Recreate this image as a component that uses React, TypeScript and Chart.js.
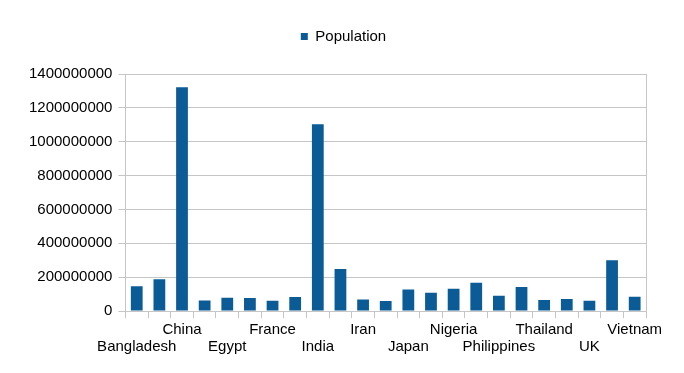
import React, { useEffect, useRef } from "react";
import { Chart, registerables } from "chart.js";

Chart.register(...registerables);

const countries = [
  "Bangladesh", "Brazil", "China", "DR Congo", "Egypt", "Ethiopia", "France", "Germany",
  "India", "Indonesia", "Iran", "Italy", "Japan", "Mexico", "Nigeria", "Pakistan",
  "Philippines", "Russia", "Thailand", "Turkey", "UK", "USA", "Vietnam",
];
const population = [
  147000000, 188000000, 1322000000, 63000000, 79000000, 77000000, 61000000, 83000000,
  1103000000, 248000000, 69000000, 59000000, 128000000, 108000000, 132000000, 167000000,
  90000000, 143000000, 65000000, 71000000, 61000000, 300000000, 85000000,
];
const seriesName = "Population";
const yMax = 1400000000;
const yStep = 200000000;

const FONT = "'Liberation Sans', Arial, Helvetica, sans-serif";

const legendGap = {
  id: "legendGap",
  beforeInit(chart: any) {
    const legend = chart.legend;
    if (!legend) return;
    const origFit = legend.fit;
    legend.fit = function () {
      origFit.call(this);
      this.height += 20;
    };
  },
  afterLayout(chart: any) {
    const legend = chart.legend;
    if (!legend) return;
    legend.left += 9;
    legend.right += 9;
  },
};

export default function App() {
  const ref = useRef<HTMLCanvasElement>(null);
  useEffect(() => {
    document.body.style.margin = "0";
    const ctx = ref.current!;
    const chart = new Chart(ctx, {
      type: "bar",
      data: {
        labels: countries,
        datasets: [
          {
            label: seriesName,
            data: population,
            backgroundColor: "#0b5b97",
            borderWidth: 0,
            categoryPercentage: 1,
            barPercentage: 0.52,
          },
        ],
      },
      plugins: [legendGap],
      options: {
        responsive: false,
        animation: false,
        layout: { padding: { left: 23, right: 38, top: 19, bottom: 15 } },
        plugins: {
          tooltip: { enabled: false },
          legend: {
            display: true,
            position: "top",
            labels: {
              boxWidth: 7,
              boxHeight: 7,
              color: "#000",
              font: { family: FONT, size: 15 },
              padding: 10,
            },
          },
        },
        scales: {
          x: {
            grid: {
              offset: true,
              drawOnChartArea: false,
              drawTicks: true,
              tickLength: 7,
              color: "#c6c6c6",
            },
            border: { display: true, color: "#c6c6c6" },
            ticks: {
              autoSkip: false,
              maxRotation: 0,
              minRotation: 0,
              padding: 3,
              color: "#000",
              font: { family: FONT, size: 15, lineHeight: 1.13 },
              callback: (_v: any, i: number) => {
                if (i % 2 === 1) return "";
                const name = countries[i];
                return (i / 2) % 2 === 0 ? ["", name] : [name, ""];
              },
            },
          },
          y: {
            min: 0,
            max: yMax,
            grid: { color: "#c6c6c6", tickLength: 7 },
            border: { display: true, color: "#c6c6c6" },
            ticks: {
              stepSize: yStep,
              padding: 6,
              color: "#000",
              font: { family: FONT, size: 15 },
              callback: (v: any) => String(v),
            },
          },
          yRight: {
            position: "right",
            display: true,
            grid: { display: false, drawTicks: false },
            border: { display: true, color: "#c6c6c6" },
            ticks: { display: false },
          },
        },
      },
    });
    return () => chart.destroy();
  }, []);
  return <canvas ref={ref} width={684} height={373} style={{ display: "block" }} />;
}
